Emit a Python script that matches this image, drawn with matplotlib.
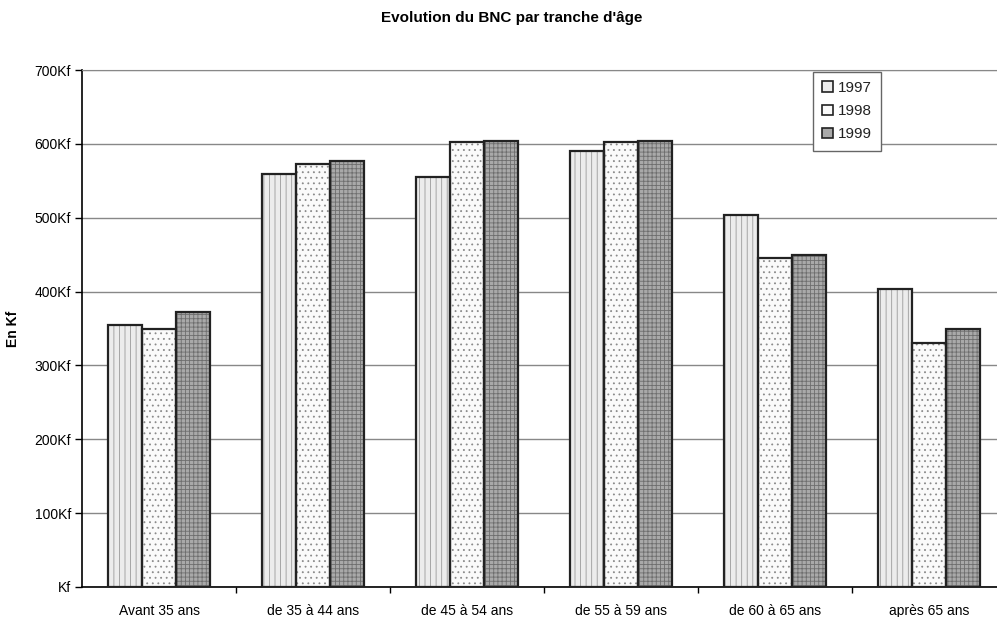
import matplotlib.pyplot as plt
import matplotlib.patches as mpatches
import numpy as np

plt.rcParams['font.family'] = ['Liberation Sans', 'DejaVu Sans']
plt.rcParams['hatch.linewidth'] = 0.6

categories = ['Avant 35 ans', 'de 35 à 44 ans', 'de 45 à 54 ans',
              'de 55 à 59 ans', 'de 60 à 65 ans', 'après 65 ans']
years = ['1997', '1998', '1999']
v1997 = [355, 559, 555, 591, 504, 404]
v1998 = [349, 573, 603, 603, 445, 330]
v1999 = [373, 577, 604, 604, 449, 350]

faces = ['#ececec', '#fafafa', '#a9a9a9']
hatches = ['|||', '...', '++++']
hcols = ['#9a9a9a', '#8a8a8a', '#6e6e6e']

fig = plt.figure(figsize=(9.97, 6.17), dpi=100)
ax = fig.add_axes([82 / 997, 30 / 617, 915 / 997, 517 / 617])

x = np.arange(len(categories))
w = 0.22
for k, vals in enumerate([v1997, v1998, v1999]):
    pos = x + (k - 1) * w
    ax.bar(pos, vals, w, color=faces[k], hatch=hatches[k], edgecolor=hcols[k],
           linewidth=0, zorder=2)
    ax.bar(pos, vals, w, fill=False, edgecolor='#222222', linewidth=1.6, zorder=3)

ax.set_xlim(-0.5, 5.5 - 9 / 154)
ax.set_ylim(0, 700)
ax.set_yticks(range(0, 701, 100))
ax.yaxis.set_major_formatter(lambda v, _: 'Kf' if v == 0 else f'{int(v)}Kf')
ax.yaxis.grid(True, color='#888888', linewidth=1.0, zorder=0)
ax.set_axisbelow(True)

ax.set_xticks(x)
ax.set_xticklabels(categories)
ax.set_xticks(np.arange(0.5, 5.5, 1), minor=True)
ax.tick_params(axis='x', which='major', length=0, pad=12, labelsize=10)
ax.tick_params(axis='x', which='minor', length=4, direction='out', width=1)
ax.tick_params(axis='y', length=5, direction='out', width=1, labelsize=10, pad=3)

ax.spines['right'].set_visible(False)
ax.spines['top'].set_color('#888888')
ax.spines['left'].set_linewidth(1.2)
ax.spines['bottom'].set_linewidth(1.2)

ax.set_ylabel('En Kf', fontweight='bold', fontsize=10, labelpad=10)
fig.suptitle("Evolution du BNC par tranche d'âge", fontweight='bold',
             fontsize=11, x=512 / 997, y=1 - 18 / 617, va='center')

handles = [mpatches.Patch(facecolor=faces[k], edgecolor='#222222', linewidth=1.2,
                          label=years[k]) for k in range(3)]
leg = ax.legend(handles=handles, loc='upper left',
                bbox_to_anchor=((813 - 82) / 915, 1 - 2 / 517),
                fontsize=11, handlelength=0.7, handleheight=0.7,
                handletextpad=0.3, labelspacing=0.6, borderpad=0.6,
                borderaxespad=0, fancybox=False, framealpha=1, edgecolor='#666666')
leg.get_frame().set_linewidth(1.0)
for t in leg.get_texts():
    t.set_color('#222222')

fig.savefig('out.png', dpi=100)
